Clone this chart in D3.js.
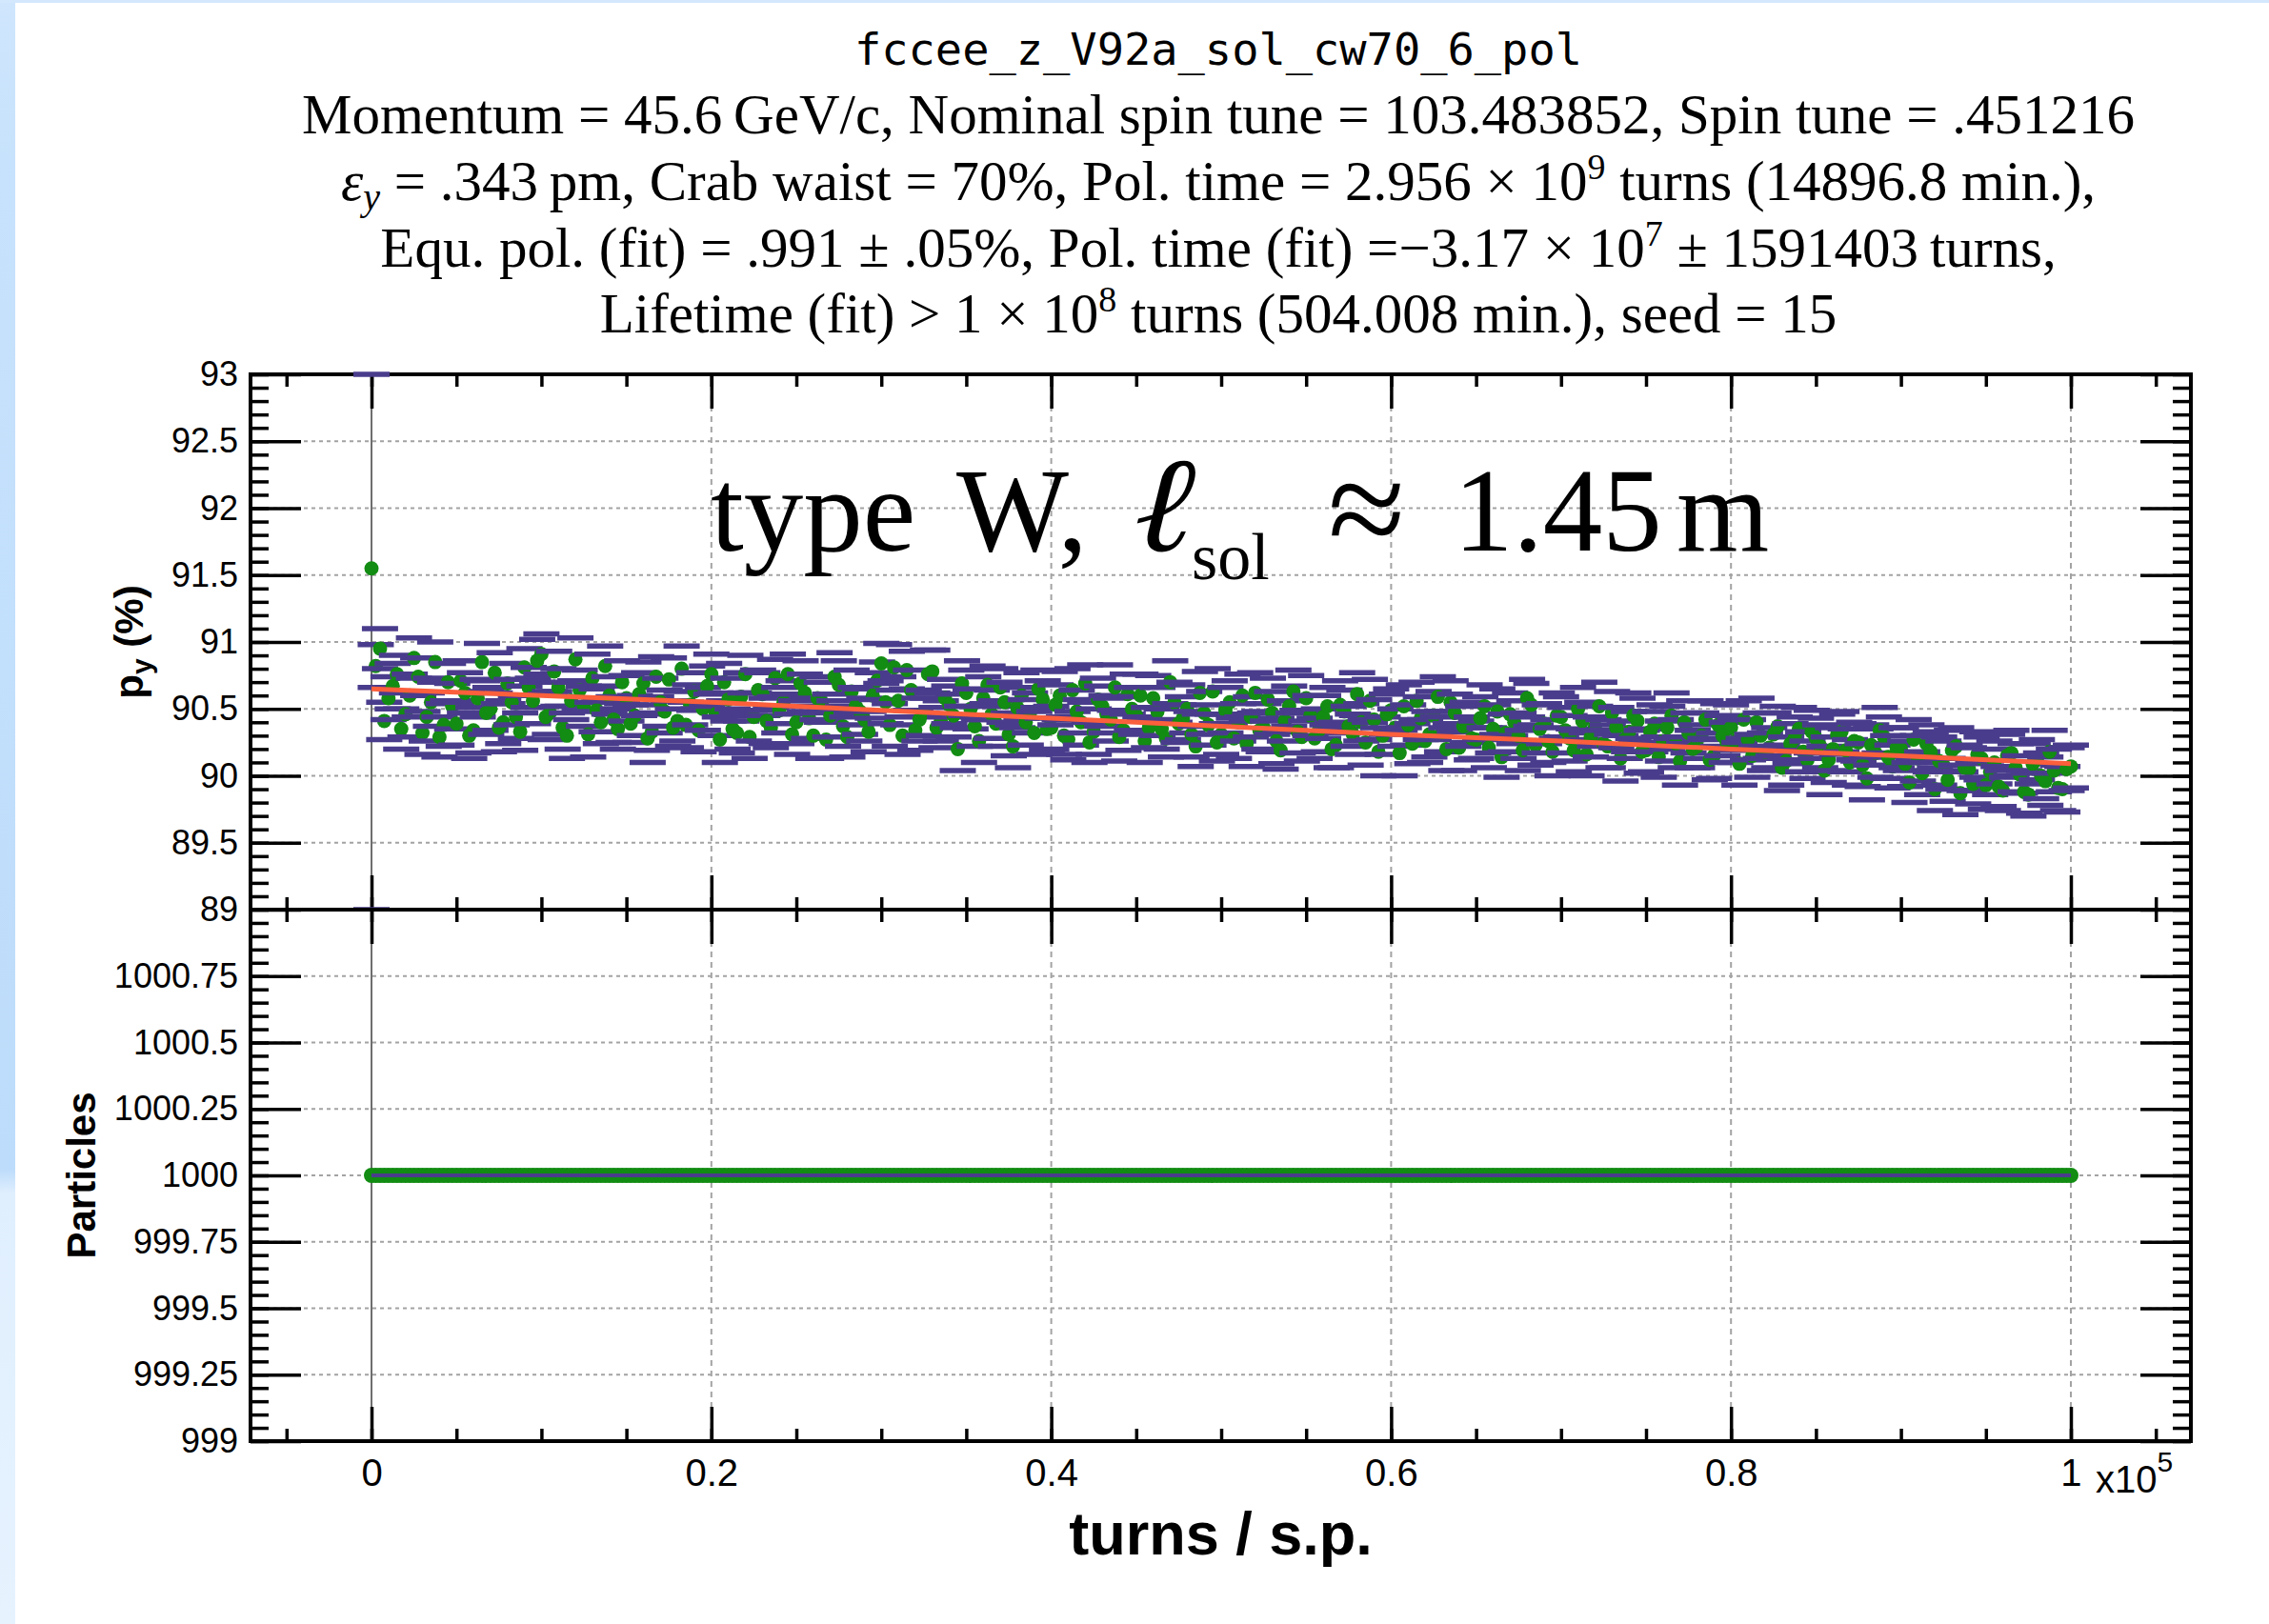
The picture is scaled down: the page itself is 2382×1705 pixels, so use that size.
<!DOCTYPE html>
<html><head><meta charset="utf-8">
<script src="https://cdn.jsdelivr.net/npm/d3@7"></script>
<style>html,body{margin:0;padding:0;background:#fff}svg{display:block}</style>
</head><body>
<svg id="c" width="2382" height="1705"></svg>
<script>
// ---------------- data ----------------
const turns = [
0,250,500,750,1000,1250,1500,1750,2000,2250,2500,2750,3000,3250,3500,3750,4000,4250,4500,4750,
5000,5250,5500,5750,6000,6250,6500,6750,7000,7250,7500,7750,8000,8250,8500,8750,9000,9250,9500,9750,
10000,10250,10500,10750,11000,11250,11500,11750,12000,12250,12500,12750,13000,13250,13500,13750,14000,14250,14500,14750,
15000,15250,15500,15750,16000,16250,16500,16750,17000,17250,17500,17750,18000,18250,18500,18750,19000,19250,19500,19750,
20000,20250,20500,20750,21000,21250,21500,21750,22000,22250,22500,22750,23000,23250,23500,23750,24000,24250,24500,24750,
25000,25250,25500,25750,26000,26250,26500,26750,27000,27250,27500,27750,28000,28250,28500,28750,29000,29250,29500,29750,
30000,30250,30500,30750,31000,31250,31500,31750,32000,32250,32500,32750,33000,33250,33500,33750,34000,34250,34500,34750,
35000,35250,35500,35750,36000,36250,36500,36750,37000,37250,37500,37750,38000,38250,38500,38750,39000,39250,39500,39750,
40000,40250,40500,40750,41000,41250,41500,41750,42000,42250,42500,42750,43000,43250,43500,43750,44000,44250,44500,44750,
45000,45250,45500,45750,46000,46250,46500,46750,47000,47250,47500,47750,48000,48250,48500,48750,49000,49250,49500,49750,
50000,50250,50500,50750,51000,51250,51500,51750,52000,52250,52500,52750,53000,53250,53500,53750,54000,54250,54500,54750,
55000,55250,55500,55750,56000,56250,56500,56750,57000,57250,57500,57750,58000,58250,58500,58750,59000,59250,59500,59750,
60000,60250,60500,60750,61000,61250,61500,61750,62000,62250,62500,62750,63000,63250,63500,63750,64000,64250,64500,64750,
65000,65250,65500,65750,66000,66250,66500,66750,67000,67250,67500,67750,68000,68250,68500,68750,69000,69250,69500,69750,
70000,70250,70500,70750,71000,71250,71500,71750,72000,72250,72500,72750,73000,73250,73500,73750,74000,74250,74500,74750,
75000,75250,75500,75750,76000,76250,76500,76750,77000,77250,77500,77750,78000,78250,78500,78750,79000,79250,79500,79750,
80000,80250,80500,80750,81000,81250,81500,81750,82000,82250,82500,82750,83000,83250,83500,83750,84000,84250,84500,84750,
85000,85250,85500,85750,86000,86250,86500,86750,87000,87250,87500,87750,88000,88250,88500,88750,89000,89250,89500,89750,
90000,90250,90500,90750,91000,91250,91500,91750,92000,92250,92500,92750,93000,93250,93500,93750,94000,94250,94500,94750,
95000,95250,95500,95750,96000,96250,96500,96750,97000,97250,97500,97750,98000,98250,98500,98750,99000,99250,99500,99750,
100000];
const polarization = [
91.55,90.82,90.95,90.41,90.58,90.67,90.76,90.35,90.46,90.60,90.88,90.74,90.32,90.44,90.55,90.85,90.29,90.38,90.70,90.52,
90.39,90.71,90.62,90.30,90.34,90.58,90.85,90.47,90.50,90.77,90.36,90.40,90.69,90.55,90.44,90.33,90.81,90.66,90.56,90.86,
90.91,90.44,90.47,90.78,90.66,90.36,90.30,90.56,90.87,90.64,90.52,90.31,90.73,90.49,90.40,90.82,90.60,90.42,90.35,90.70,
90.58,90.39,90.45,90.61,90.69,90.28,90.33,90.74,90.55,90.48,90.72,90.36,90.41,90.80,90.38,90.53,90.63,90.34,90.50,90.67,
90.76,90.46,90.27,90.70,90.57,90.35,90.32,90.59,90.76,90.29,90.44,90.64,90.61,90.41,90.36,90.73,90.49,90.55,90.76,90.31,
90.40,90.69,90.62,90.43,90.30,90.58,90.55,90.27,90.45,90.74,90.68,90.37,90.29,90.63,90.52,90.48,90.42,90.33,90.60,90.71,
90.84,90.55,90.38,90.81,90.56,90.30,90.79,90.64,90.34,90.42,90.47,90.76,90.78,90.36,90.41,90.58,90.53,90.45,90.20,90.69,
90.62,90.50,90.37,90.26,90.58,90.68,90.46,90.39,90.66,90.55,90.31,90.22,90.51,90.60,90.40,90.47,90.32,90.65,90.57,90.35,
90.36,90.53,90.60,90.30,90.27,90.64,90.48,90.40,90.69,90.25,90.33,90.57,90.52,90.46,90.42,90.66,90.29,90.34,90.61,90.50,
90.45,90.60,90.26,90.36,90.58,90.48,90.35,90.28,90.70,90.55,90.39,90.43,90.50,90.31,90.22,90.62,90.47,90.38,90.63,90.25,
90.31,90.49,90.55,90.28,90.40,90.60,90.24,90.44,90.62,90.34,90.36,90.57,90.47,90.26,90.19,90.41,90.52,90.63,90.33,90.29,
90.58,90.45,90.28,90.34,90.44,90.52,90.20,90.23,90.53,90.48,90.37,90.31,90.61,90.40,90.25,90.56,90.42,90.18,90.30,90.46,
90.49,90.36,90.17,90.52,90.38,90.24,90.56,90.43,90.26,90.31,90.45,90.59,90.33,90.20,90.55,90.47,90.21,90.37,90.40,90.28,
90.27,90.43,90.52,90.21,90.35,90.48,90.14,90.32,90.46,90.40,90.30,90.19,90.58,90.53,90.23,90.35,90.39,90.26,90.18,90.45,
90.44,90.34,90.28,90.19,90.50,90.41,90.16,90.29,90.37,90.52,90.24,90.22,90.47,90.36,90.13,90.27,90.33,90.45,90.41,90.18,
90.19,90.33,90.39,90.14,90.26,90.36,90.45,90.24,90.11,90.40,90.32,90.20,90.22,90.30,90.42,90.12,90.15,90.38,90.30,90.25,
90.36,90.26,90.09,90.42,90.27,90.15,90.40,90.30,90.18,90.21,90.31,90.37,90.06,90.11,90.24,90.28,90.35,90.18,90.12,90.33,
90.28,90.22,90.04,90.12,90.20,90.31,90.33,90.19,90.10,90.26,90.25,90.08,89.98,90.23,90.17,90.34,90.29,90.14,90.07,90.21,
90.20,90.09,89.95,90.27,90.13,90.02,90.24,90.18,89.90,90.11,90.08,89.97,90.19,90.22,89.87,90.06,90.05,89.94,90.16,90.13,
89.93,90.03,90.10,89.92,89.89,90.15,90.17,90.06,90.01,89.88,89.86,90.09,90.12,90.00,89.96,90.18,90.04,89.91,89.90,90.05,
90.07];
const polarizationErr = [
3.00,0.16,0.15,0.14,0.16,0.17,0.14,0.15,0.17,0.16,0.15,0.14,0.16,0.18,0.18,0.15,0.15,0.16,0.14,0.17,
0.16,0.15,0.15,0.17,0.17,0.14,0.14,0.16,0.16,0.15,0.18,0.16,0.15,0.17,0.16,0.14,0.14,0.15,0.17,0.16,
0.15,0.17,0.16,0.15,0.14,0.16,0.17,0.14,0.16,0.15,0.15,0.17,0.18,0.16,0.16,0.15,0.14,0.17,0.15,0.16,
0.17,0.14,0.15,0.16,0.16,0.18,0.14,0.15,0.18,0.16,0.16,0.14,0.15,0.17,0.17,0.15,0.14,0.16,0.16,0.15,
0.15,0.16,0.17,0.14,0.16,0.15,0.15,0.18,0.14,0.16,0.18,0.15,0.16,0.17,0.15,0.14,0.17,0.16,0.15,0.15,
0.16,0.17,0.14,0.15,0.17,0.16,0.15,0.14,0.16,0.18,0.18,0.15,0.15,0.16,0.14,0.17,0.16,0.15,0.17,0.14,
0.15,0.16,0.16,0.17,0.18,0.14,0.14,0.15,0.15,0.16,0.17,0.18,0.16,0.15,0.15,0.14,0.14,0.16,0.16,0.17,
0.17,0.15,0.15,0.16,0.16,0.14,0.18,0.17,0.14,0.15,0.16,0.16,0.15,0.17,0.17,0.15,0.16,0.14,0.14,0.16,
0.16,0.15,0.18,0.14,0.15,0.16,0.16,0.17,0.14,0.15,0.17,0.16,0.15,0.14,0.16,0.17,0.18,0.15,0.15,0.16,
0.14,0.16,0.16,0.15,0.17,0.18,0.15,0.14,0.16,0.15,0.14,0.16,0.18,0.17,0.15,0.16,0.16,0.15,0.17,0.14,
0.15,0.17,0.16,0.15,0.14,0.16,0.17,0.15,0.15,0.14,0.18,0.16,0.16,0.17,0.14,0.15,0.15,0.16,0.16,0.18,
0.17,0.15,0.15,0.16,0.16,0.14,0.14,0.17,0.18,0.16,0.15,0.15,0.16,0.14,0.17,0.16,0.15,0.18,0.14,0.15,
0.16,0.14,0.17,0.16,0.15,0.15,0.14,0.16,0.16,0.17,0.18,0.15,0.15,0.16,0.16,0.14,0.17,0.15,0.15,0.16,
0.14,0.16,0.16,0.15,0.18,0.17,0.15,0.14,0.16,0.16,0.17,0.15,0.14,0.16,0.15,0.18,0.15,0.16,0.18,0.17,
0.15,0.17,0.17,0.16,0.16,0.14,0.16,0.15,0.15,0.18,0.18,0.16,0.16,0.15,0.17,0.14,0.15,0.17,0.17,0.16,
0.16,0.15,0.14,0.15,0.15,0.16,0.17,0.18,0.18,0.16,0.15,0.14,0.16,0.17,0.14,0.15,0.17,0.16,0.15,0.15,
0.17,0.16,0.16,0.14,0.15,0.16,0.18,0.17,0.14,0.15,0.16,0.15,0.17,0.18,0.15,0.16,0.16,0.15,0.14,0.16,
0.15,0.16,0.18,0.17,0.16,0.15,0.15,0.16,0.17,0.14,0.14,0.16,0.16,0.15,0.18,0.17,0.15,0.16,0.16,0.15,
0.16,0.17,0.15,0.15,0.17,0.16,0.14,0.15,0.16,0.18,0.18,0.16,0.15,0.14,0.16,0.17,0.16,0.15,0.17,0.16,
0.18,0.17,0.16,0.15,0.15,0.16,0.17,0.18,0.14,0.16,0.16,0.15,0.15,0.17,0.18,0.16,0.16,0.17,0.17,0.16,
0.16];
const particles = [
1000,1000,1000,1000,1000,1000,1000,1000,1000,1000,1000,1000,1000,1000,1000,1000,1000,1000,1000,1000,
1000,1000,1000,1000,1000,1000,1000,1000,1000,1000,1000,1000,1000,1000,1000,1000,1000,1000,1000,1000,
1000,1000,1000,1000,1000,1000,1000,1000,1000,1000,1000,1000,1000,1000,1000,1000,1000,1000,1000,1000,
1000,1000,1000,1000,1000,1000,1000,1000,1000,1000,1000,1000,1000,1000,1000,1000,1000,1000,1000,1000,
1000,1000,1000,1000,1000,1000,1000,1000,1000,1000,1000,1000,1000,1000,1000,1000,1000,1000,1000,1000,
1000,1000,1000,1000,1000,1000,1000,1000,1000,1000,1000,1000,1000,1000,1000,1000,1000,1000,1000,1000,
1000,1000,1000,1000,1000,1000,1000,1000,1000,1000,1000,1000,1000,1000,1000,1000,1000,1000,1000,1000,
1000,1000,1000,1000,1000,1000,1000,1000,1000,1000,1000,1000,1000,1000,1000,1000,1000,1000,1000,1000,
1000,1000,1000,1000,1000,1000,1000,1000,1000,1000,1000,1000,1000,1000,1000,1000,1000,1000,1000,1000,
1000,1000,1000,1000,1000,1000,1000,1000,1000,1000,1000,1000,1000,1000,1000,1000,1000,1000,1000,1000,
1000,1000,1000,1000,1000,1000,1000,1000,1000,1000,1000,1000,1000,1000,1000,1000,1000,1000,1000,1000,
1000,1000,1000,1000,1000,1000,1000,1000,1000,1000,1000,1000,1000,1000,1000,1000,1000,1000,1000,1000,
1000,1000,1000,1000,1000,1000,1000,1000,1000,1000,1000,1000,1000,1000,1000,1000,1000,1000,1000,1000,
1000,1000,1000,1000,1000,1000,1000,1000,1000,1000,1000,1000,1000,1000,1000,1000,1000,1000,1000,1000,
1000,1000,1000,1000,1000,1000,1000,1000,1000,1000,1000,1000,1000,1000,1000,1000,1000,1000,1000,1000,
1000,1000,1000,1000,1000,1000,1000,1000,1000,1000,1000,1000,1000,1000,1000,1000,1000,1000,1000,1000,
1000,1000,1000,1000,1000,1000,1000,1000,1000,1000,1000,1000,1000,1000,1000,1000,1000,1000,1000,1000,
1000,1000,1000,1000,1000,1000,1000,1000,1000,1000,1000,1000,1000,1000,1000,1000,1000,1000,1000,1000,
1000,1000,1000,1000,1000,1000,1000,1000,1000,1000,1000,1000,1000,1000,1000,1000,1000,1000,1000,1000,
1000,1000,1000,1000,1000,1000,1000,1000,1000,1000,1000,1000,1000,1000,1000,1000,1000,1000,1000,1000,
1000];
const fitTurns = [0,10000,20000,30000,40000,50000,60000,70000,80000,90000,100000];
const fitPolarization = [90.65,90.60,90.55,90.49,90.43,90.37,90.31,90.26,90.20,90.15,90.09];
const refLineTurns = [0];

const xMajor = [0,20000,40000,60000,80000,100000];
const xMajorLabels = ["0","0.2","0.4","0.6","0.8","1"];
const polTicks = [89,89.5,90,90.5,91,91.5,92,92.5,93];
const polTickLabels = ["89","89.5","90","90.5","91","91.5","92","92.5","93"];
const partTicks = [999,999.25,999.5,999.75,1000,1000.25,1000.5,1000.75,1001];
const partTickLabels = ["999","999.25","999.5","999.75","1000","1000.25","1000.5","1000.75",""];

// ---------------- layout ----------------
const svg = d3.select("#c");
const L = 263, R = 2300, T1 = 393, B1 = 955, T2 = 955, B2 = 1513;
const SANS = "'Liberation Sans', Arial, Helvetica, sans-serif";
const SERIF = "'Liberation Serif', 'Times New Roman', serif";
const MONO = "'DejaVu Sans Mono', 'Liberation Mono', monospace";
const PURPLE = "#4a3c8c", GREEN = "#128c12", RED = "#fb5f3c", GRID = "#a3a3a3";

const x = d3.scaleLinear().domain([-7119, 107063]).range([L, R]);
const yPol = d3.scaleLinear().domain([89, 93]).range([B1, T1]);
const yPart = d3.scaleLinear().domain([999, 1001]).range([B2, T2]);

// background decorations (slide border)
const defs = svg.append("defs");
const lg = defs.append("linearGradient").attr("id","strip").attr("x1",0).attr("y1",0).attr("x2",0).attr("y2",1);
[[0,"#cfe6fd"],[0.1,"#c7e2fc"],[0.72,"#bddcfb"],[0.735,"#e0effe"],[1,"#e6f2fe"]]
  .forEach(([o,c]) => lg.append("stop").attr("offset",o).attr("stop-color",c));
svg.append("rect").attr("x",0).attr("y",0).attr("width",2382).attr("height",1705).attr("fill","#fff");
svg.append("rect").attr("x",0).attr("y",0).attr("width",16).attr("height",1705).attr("fill","url(#strip)");
svg.append("rect").attr("x",0).attr("y",0).attr("width",2382).attr("height",3).attr("fill","#d3e8fd");

function axis(gen, tx, ty, fs) {
  const a = svg.append("g").attr("transform", `translate(${tx},${ty})`).call(gen);
  a.select(".domain").remove();
  a.selectAll(".tick line").attr("stroke", "#000").attr("stroke-width", 3.5);
  a.selectAll("text").attr("font-family", SANS).attr("font-size", fs || 36).attr("fill", "#000");
  return a;
}

function panel(y, top, bottom, ticks, labels, minorN, showXLabels) {
  svg.append("g").selectAll("line").data(ticks.slice(1, -1)).join("line")
    .attr("x1", L).attr("x2", R).attr("y1", d => y(d)).attr("y2", d => y(d))
    .attr("stroke", GRID).attr("stroke-width", 2).attr("stroke-dasharray", "4 4");
  svg.append("g").selectAll("line").data(xMajor.slice(1)).join("line")
    .attr("x1", d => x(d)).attr("x2", d => x(d)).attr("y1", top).attr("y2", bottom)
    .attr("stroke", GRID).attr("stroke-width", 2).attr("stroke-dasharray", "6 5");
  svg.append("g").selectAll("line").data(refLineTurns).join("line")
    .attr("x1", d => x(d)).attr("x2", d => x(d)).attr("y1", top).attr("y2", bottom)
    .attr("stroke", "#6e6e6e").attr("stroke-width", 2);
  svg.append("rect").attr("x", L).attr("y", top).attr("width", R - L).attr("height", bottom - top)
    .attr("fill", "none").attr("stroke", "#000").attr("stroke-width", 4);
  axis(d3.axisLeft(y).tickValues(ticks).tickSize(-53).tickPadding(13).tickFormat((d, i) => labels[i]), L, 0, 36);
  axis(d3.axisLeft(y).tickValues(y.ticks(minorN)).tickSize(-19).tickFormat(""), L, 0);
  axis(d3.axisRight(y).tickValues(ticks).tickSize(-53).tickFormat(""), R, 0);
  axis(d3.axisRight(y).tickValues(y.ticks(minorN)).tickSize(-19).tickFormat(""), R, 0);
  axis(d3.axisTop(x).tickValues(xMajor).tickSize(-36).tickFormat(""), 0, top);
  axis(d3.axisTop(x).tickValues(x.ticks(22)).tickSize(-13).tickFormat(""), 0, top);
  axis(d3.axisBottom(x).tickValues(xMajor).tickSize(-36).tickPadding(19)
    .tickFormat((d, i) => showXLabels ? xMajorLabels[i] : ""), 0, bottom, 40);
  axis(d3.axisBottom(x).tickValues(x.ticks(22)).tickSize(-13).tickFormat(""), 0, bottom);
}

// ---------- top panel ----------
panel(yPol, T1, B1, polTicks, polTickLabels, 40, false);
const clampP = v => Math.max(89, Math.min(93, v));
const pts = svg.append("g").selectAll("g").data(turns).join("g");
[1, -1].forEach(sgn => {
  pts.append("line")
    .attr("x1", d => x(d) - 19).attr("x2", d => x(d) + 19)
    .attr("y1", (d, i) => yPol(clampP(polarization[i] + sgn * polarizationErr[i])))
    .attr("y2", (d, i) => yPol(clampP(polarization[i] + sgn * polarizationErr[i])))
    .attr("stroke", PURPLE).attr("stroke-width", 5.5);
});
pts.append("circle")
  .attr("cx", d => x(d)).attr("cy", (d, i) => yPol(polarization[i])).attr("r", 7.5).attr("fill", GREEN);
svg.append("path").datum(fitTurns)
  .attr("d", d3.line().x(d => x(d)).y((d, i) => yPol(fitPolarization[i])))
  .attr("fill", "none").attr("stroke", RED).attr("stroke-width", 5);

// ---------- bottom panel ----------
svg.append("rect").attr("x", L).attr("y", T2).attr("width", R - L).attr("height", B2 - T2).attr("fill", "#fff");
panel(yPart, T2, B2, partTicks, partTickLabels, 40, true);
svg.append("g").selectAll("circle").data(turns).join("circle")
  .attr("cx", d => x(d)).attr("cy", (d, i) => yPart(particles[i])).attr("r", 8).attr("fill", GREEN);
svg.append("path").datum(turns)
  .attr("d", d3.line().x(d => x(d)).y((d, i) => yPart(particles[i])))
  .attr("fill", "none").attr("stroke", PURPLE).attr("stroke-width", 4);

// x10^5 exponent
const ex = svg.append("text").attr("x", x(100000) + 26).attr("y", 1567)
  .attr("font-family", SANS).attr("font-size", 40).attr("fill", "#000");
ex.append("tspan").text("x10");
ex.append("tspan").attr("font-size", 30).attr("dy", -22).text("5");

// axis titles
svg.append("text").attr("x", (L + R) / 2).attr("y", 1632).attr("text-anchor", "middle")
  .attr("font-family", SANS).attr("font-weight", "bold").attr("font-size", 63).text("turns / s.p.");
const yt = svg.append("text").attr("transform", `translate(150,${(T1 + B1) / 2}) rotate(-90)`)
  .attr("text-anchor", "middle").attr("font-family", SANS).attr("font-weight", "bold").attr("font-size", 42);
yt.append("tspan").text("p");
yt.append("tspan").attr("font-size", 30).attr("dy", 9).text("y");
yt.append("tspan").attr("dy", -9).text(" (%)");
svg.append("text").attr("transform", `translate(100,${(T2 + B2) / 2}) rotate(-90)`)
  .attr("text-anchor", "middle").attr("font-family", SANS).attr("font-weight", "bold").attr("font-size", 42)
  .text("Particles");

// title block
const CX = 1279;
svg.append("text").attr("x", CX).attr("y", 68).attr("text-anchor", "middle")
  .attr("font-family", MONO).attr("font-size", 47).text("fccee_z_V92a_sol_cw70_6_pol");
function titleLine(yb, parts) {
  const t = svg.append("text").attr("x", CX).attr("y", yb).attr("text-anchor", "middle")
    .attr("font-family", SERIF).attr("font-size", 59).attr("fill", "#000");
  parts.forEach(p => {
    const s = t.append("tspan").text(p.t);
    if (p.dy) s.attr("dy", p.dy);
    if (p.fs) s.attr("font-size", p.fs);
    if (p.it) s.attr("font-style", "italic");
  });
}
titleLine(140, [{t: "Momentum = 45.6\u2009GeV/c, Nominal spin tune = 103.483852, Spin tune = .451216"}]);
titleLine(210, [{t: "\u03b5", it: 1}, {t: "y", it: 1, fs: 40, dy: 10},
  {t: " = .343\u2009pm, Crab waist = 70%, Pol. time = 2.956 \u00d7 10", dy: -10},
  {t: "9", fs: 38, dy: -22}, {t: " turns (14896.8 min.),", dy: 22}]);
titleLine(280, [{t: "Equ. pol. (fit) = .991 \u00b1 .05%, Pol. time (fit) =\u22123.17 \u00d7 10"},
  {t: "7", fs: 38, dy: -22}, {t: " \u00b1 1591403\u2009turns,", dy: 22}]);
titleLine(349, [{t: "Lifetime (fit) > 1 \u00d7 10"}, {t: "8", fs: 38, dy: -22},
  {t: " turns (504.008 min.), seed = 15", dy: 22}]);

// annotation
const ann = svg.append("g").attr("font-family", SERIF).attr("fill", "#000");
ann.append("text").attr("x", 746).attr("y", 578).attr("font-size", 125).text("type");
ann.append("text").attr("x", 1004).attr("y", 578).attr("font-size", 125).text("W,");
ann.append("text").attr("transform", "translate(1178,578) skewX(-14) scale(1.25,1.2)")
  .attr("font-size", 118).attr("font-family", "'DejaVu Serif', serif").text("\u2113");
ann.append("text").attr("x", 1251).attr("y", 608).attr("font-size", 70).text("sol");
ann.append("text").attr("x", 1394).attr("y", 584).attr("font-size", 148).text("\u2248");
ann.append("text").attr("x", 1526).attr("y", 578).attr("font-size", 125).text("1.45");
ann.append("text").attr("x", 1760).attr("y", 578).attr("font-size", 125).text("m");
</script>
</body></html>
